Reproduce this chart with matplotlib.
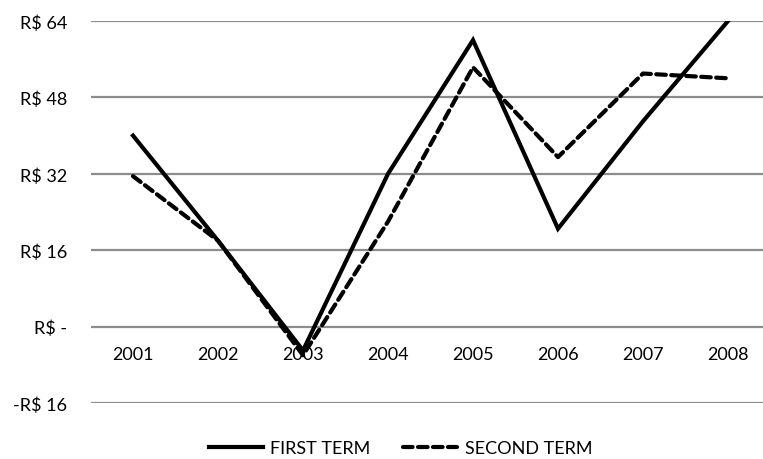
import matplotlib.pyplot as plt

years = ["2001", "2002", "2003", "2004", "2005", "2006", "2007", "2008"]
first_term = [40, 18, -5, 32, 60, 20.5, 43, 64]
second_term = [31.5, 18, -6, 22, 54.3, 35.5, 53, 52]
y_ticks = [-16, 0, 16, 32, 48, 64]
y_labels = ["-R$ 16", "R$ -", "R$ 16", "R$ 32", "R$ 48", "R$ 64"]

plt.rcParams["font.family"] = ["Lato", "DejaVu Sans"]

fig = plt.figure(figsize=(7.63, 4.6), dpi=100)
ax = fig.add_axes([90.5 / 763, 56 / 460, 680 / 763, 382 / 460])

x = list(range(len(years)))
ax.plot(x, first_term, color="black", lw=3, solid_joinstyle="miter",
        label="FIRST TERM", zorder=3)
ax.plot(x, second_term, color="black", lw=3, linestyle=(0, (2.3, 1.3)),
        dash_capstyle="round", label="SECOND TERM", zorder=3)

ax.set_xlim(-0.5, 7.5)
ax.set_ylim(-16, 64)
ax.set_yticks(y_ticks)
ax.set_yticklabels(y_labels, fontsize=13)
ax.set_xticks([])
ax.tick_params(axis="y", length=0, pad=17)
ax.yaxis.grid(True, color="#8c8c8c", lw=1.6)
ax.set_axisbelow(True)
for s in ax.spines.values():
    s.set_visible(False)

# year labels sit just under the zero line
for i, yr in enumerate(years):
    ax.annotate(yr, (i, 0), xytext=(0, -20), textcoords="offset points",
                ha="center", va="center", fontsize=13)

fig.legend(loc="center", bbox_to_anchor=(400.5 / 763, 1 - 449 / 460), ncol=2,
           frameon=False, fontsize=13, handlelength=3.0, handletextpad=0.4,
           columnspacing=1.8)

fig.savefig("out.png", dpi=100)
